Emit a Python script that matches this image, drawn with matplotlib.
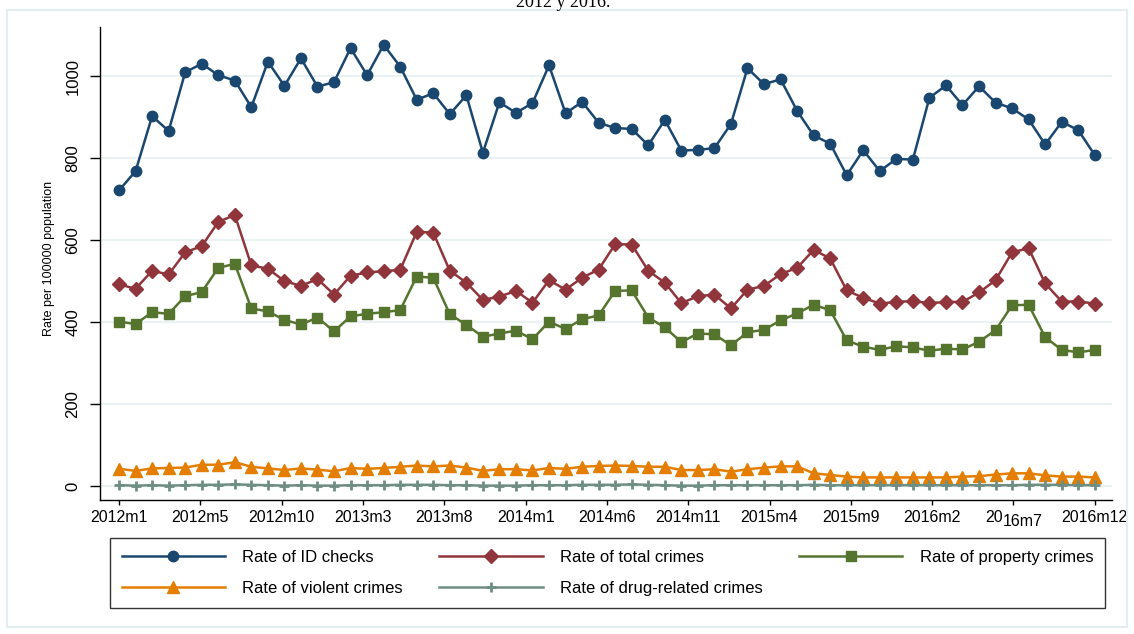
import matplotlib.pyplot as plt
import numpy as np
from matplotlib.patches import Rectangle

plt.rcParams['font.family'] = ['Liberation Sans', 'DejaVu Sans']

# monthly rates per 100000 population, 2012m1 .. 2016m12
id_checks = [721, 768, 902, 866, 1009, 1030, 1002, 989, 924, 1035,
             976, 1043, 974, 985, 1068, 1002, 1076, 1023, 942, 958,
             907, 953, 813, 936, 910, 934, 1026, 909, 937, 886,
             873, 871, 831, 893, 818, 820, 824, 883, 1019, 980,
             992, 915, 855, 835, 758, 819, 768, 798, 796, 947,
             977, 929, 975, 935, 921, 894, 833, 888, 868, 807]
total_crimes = [492, 481, 525, 516, 570, 585, 644, 661, 538, 530,
                500, 488, 505, 467, 513, 521, 524, 527, 620, 618,
                525, 496, 454, 462, 476, 447, 502, 479, 508, 528,
                590, 589, 525, 496, 446, 463, 467, 433, 479, 488,
                517, 532, 576, 555, 477, 459, 445, 449, 451, 446,
                449, 449, 472, 502, 570, 580, 494, 450, 450, 445]
property_crimes = [401, 395, 424, 420, 463, 473, 532, 542, 433, 426,
                   405, 394, 411, 377, 414, 420, 424, 429, 511, 508,
                   419, 393, 364, 372, 379, 358, 401, 383, 407, 416,
                   476, 477, 411, 387, 351, 372, 370, 343, 375, 381,
                   404, 421, 442, 429, 355, 340, 332, 341, 338, 330,
                   335, 333, 352, 380, 441, 442, 363, 332, 326, 332]
violent_crimes = [42, 37, 43, 44, 45, 52, 52, 58, 47, 43,
                  39, 43, 40, 36, 44, 42, 44, 47, 50, 48,
                  50, 45, 37, 41, 41, 38, 44, 42, 47, 49,
                  50, 49, 47, 47, 39, 39, 41, 35, 41, 45,
                  48, 48, 31, 27, 23, 21, 21, 21, 21, 21,
                  21, 23, 24, 28, 31, 31, 26, 23, 23, 21]
drug_crimes = [2, 1, 2, 1, 2, 3, 3, 4, 3, 2,
               1, 2, 1, 1, 2, 2, 2, 3, 3, 3,
               2, 2, 1, 1, 1, 2, 2, 2, 3, 3,
               3, 4, 3, 2, 1, 1, 2, 2, 2, 2,
               2, 2, 3, 2, 2, 2, 2, 2, 2, 2,
               2, 2, 2, 2, 2, 3, 3, 3, 2, 2]
tick_labels = ['2012m1', '2012m5', '2012m10', '2013m3', '2013m8', '2014m1', '2014m6',
               '2014m11', '2015m4', '2015m9', '2016m2', '2016m7', '2016m12']
y_ticks = [0, 200, 400, 600, 800, 1000]

navy = '#1a476f'
maroon = '#90353b'
green = '#55752f'
orange = '#e37e00'
teal = '#6e8e84'

fig = plt.figure(figsize=(11.34, 6.34), dpi=100)
fig.patch.set_facecolor('white')
ax = fig.add_axes([0.0882, 0.2114, 0.8924, 0.7460])

x = np.arange(len(id_checks))
h1, = ax.plot(x, id_checks, color=navy, lw=1.8, marker='o', ms=7.5, label='Rate of ID checks')
h2, = ax.plot(x, total_crimes, color=maroon, lw=1.8, marker='D', ms=7, label='Rate of total crimes')
h3, = ax.plot(x, property_crimes, color=green, lw=1.8, marker='s', ms=7, label='Rate of property crimes')
h4, = ax.plot(x, violent_crimes, color=orange, lw=1.8, marker='^', ms=8, label='Rate of violent crimes')
h5, = ax.plot(x, drug_crimes, color=teal, lw=1.8, marker='+', ms=7, mew=2, label='Rate of drug-related crimes')

ax.set_xlim(-1.15, 60.04)
ax.set_ylim(-34, 1119.5)

# 13 ticks evenly spread from first to last month
ticks = np.linspace(0, len(x) - 1, len(tick_labels))
ax.set_xticks(ticks)
ax.set_xticklabels([lab if lab != '2016m7' else '' for lab in tick_labels])
ax.set_yticks(y_ticks)
ax.tick_params(axis='y', length=7.2, width=1, pad=7, labelsize=12, labelrotation=90)
ax.tick_params(axis='x', length=3.6, width=1, pad=3.6, labelsize=11.5)
for lab in ax.get_yticklabels():
    lab.set_va('center')

# the odd "20 16m7" label
pos = ticks[tick_labels.index('2016m7')]
trans = ax.get_xaxis_transform()
ax.annotate('20', xy=(pos, 0), xycoords=trans, xytext=(-8, -7.2),
            textcoords='offset points', ha='right', va='top', fontsize=11.5)
ax.annotate('16m7', xy=(pos, 0), xycoords=trans, xytext=(-7.8, -10.2),
            textcoords='offset points', ha='left', va='top', fontsize=11.5)

ax.yaxis.grid(True, color='#eaf2f3', lw=1.5)
ax.set_axisbelow(True)
ax.spines['top'].set_visible(False)
ax.spines['right'].set_visible(False)
ax.spines['left'].set_linewidth(1)
ax.spines['bottom'].set_linewidth(1)

ax.set_ylabel('Rate per 100000 population', fontsize=9)
ax.yaxis.set_label_coords(-0.0445, 0.51)

# legend: two rows, three columns
order = [h1, h4, h2, h5, h3]
leg = fig.legend(order, [h.get_label() for h in order],
                 ncol=3, loc='center', bbox_to_anchor=(0.097, 0.041, 0.8774, 0.1104),
                 mode='expand', borderaxespad=0, handlelength=6.2, handletextpad=1.05,
                 labelspacing=0.95, borderpad=0.7, fancybox=False, edgecolor='black',
                 fontsize=12, numpoints=1)
leg.get_frame().set_linewidth(1)

# outer graph region border
fig.patches.append(Rectangle((7 / 1134, 1 - 627 / 634), 1120 / 1134, 617 / 634,
                             transform=fig.transFigure, fill=False,
                             edgecolor='#e6edf0', lw=1.5))

# title line cut off at the top
fig.text(563 / 1134, 1 - 7 / 634, '2012 y 2016.', ha='center', va='baseline',
         fontsize=13, family=['Liberation Serif', 'DejaVu Serif'])

plt.savefig('out.png', dpi=100)
